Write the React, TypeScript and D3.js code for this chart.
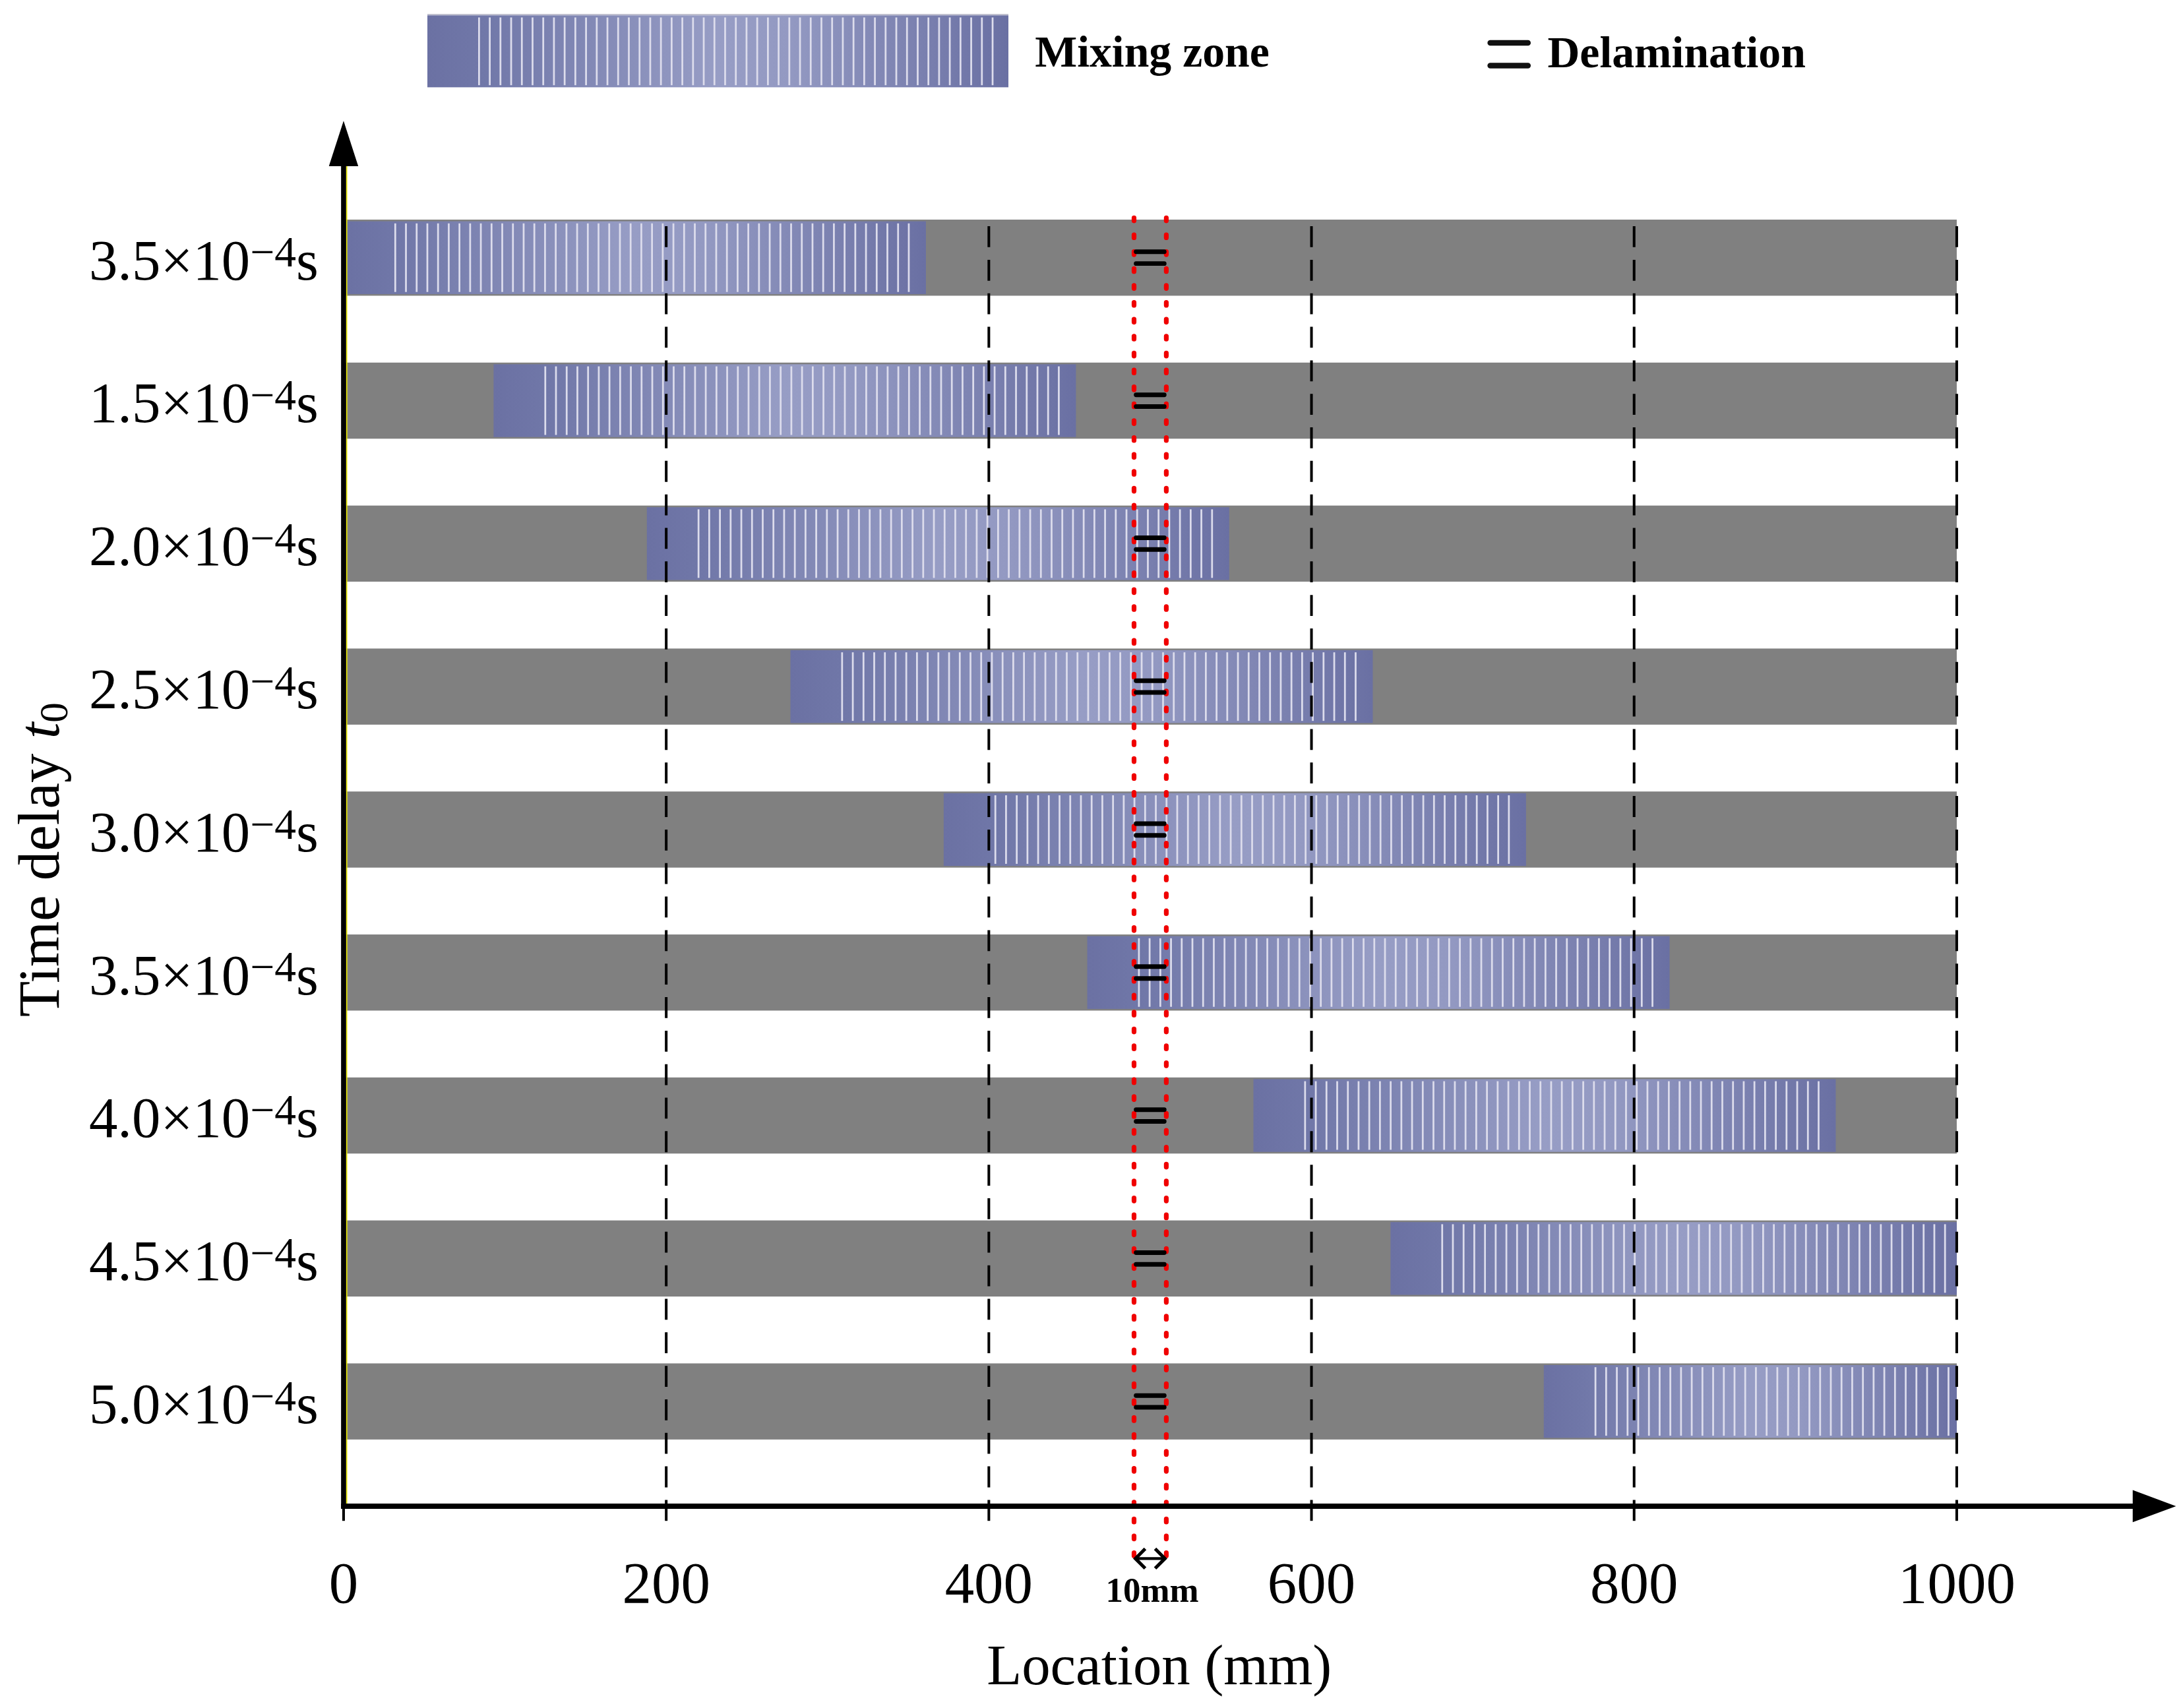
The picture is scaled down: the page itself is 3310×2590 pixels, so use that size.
import { useEffect, useRef } from "react";
import * as d3 from "d3";

// time delay label of each row (top to bottom), as printed
const delayLabels = ["3.5", "1.5", "2.0", "2.5", "3.0", "3.5", "4.0", "4.5", "5.0"];
// mixing zone extent per row, mm
const zoneStart = [0, 93, 188, 277, 372, 461, 564, 649, 744];
const zoneEnd = [361, 454, 549, 638, 733, 822, 925, 1000, 1000];
const xTicks = [0, 200, 400, 600, 800, 1000];
// delamination band, mm
const delamLeft = 490;
const delamRight = 510;

const W = 1563;
const H = 1223;
const FONT = "'Liberation Serif', 'Times New Roman', serif";

export default function App() {
    const ref = useRef<SVGSVGElement | null>(null);

    useEffect(() => {
        if (!ref.current) return;
        const svg = d3.select(ref.current);
        svg.selectAll("*").remove();

        const x = d3.scaleLinear().domain([0, 1000]).range([246, 1401]);
        const y = d3.scalePoint<number>().domain(d3.range(delayLabels.length)).range([184.5, 1003.5]);
        const barH = 54.5;
        const axisY = 1078.5;

        const defs = svg.append("defs");
        const grad = defs.append("linearGradient").attr("id", "mixGrad");
        [[0, "#6b71a3"], [0.09, "#7077a8"], [0.5, "#979dc5"], [0.62, "#9399c2"], [1, "#6a70a3"]]
            .forEach(([o, c]) => grad.append("stop").attr("offset", o as number).attr("stop-color", c as string));

        const drawZone = (g: any, x0: number, x1: number, top: number, h: number) => {
            g.append("rect")
                .attr("x", x0).attr("y", top)
                .attr("width", x1 - x0).attr("height", h)
                .attr("fill", "url(#mixGrad)");
            const step = 7.66;
            const stripes = d3.range(x0 + 37, x1 - 5, step);
            g.selectAll(null)
                .data(stripes)
                .enter()
                .append("line")
                .attr("x1", (d: number) => d).attr("x2", (d: number) => d)
                .attr("y1", top + 1.5).attr("y2", top + h - 1.5)
                .attr("stroke", "#dcdcec")
                .attr("stroke-width", 1.3);
        };

        // legend
        const legend = svg.append("g");
        legend.append("line")
            .attr("x1", 306).attr("x2", 722).attr("y1", 10.5).attr("y2", 10.5)
            .attr("stroke", "#b8b8c8").attr("stroke-width", 1);
        drawZone(legend, 306, 722, 11, 51.5);
        legend.append("text")
            .attr("x", 741).attr("y", 47.5)
            .attr("font-family", FONT).attr("font-weight", "bold").attr("font-size", 32)
            .text("Mixing zone");
        [30.7, 47].forEach((yy) => {
            legend.append("line")
                .attr("x1", 1067).attr("x2", 1094).attr("y1", yy).attr("y2", yy)
                .attr("stroke", "#111").attr("stroke-width", 4).attr("stroke-linecap", "round");
        });
        legend.append("text")
            .attr("x", 1108).attr("y", 48)
            .attr("font-family", FONT).attr("font-weight", "bold").attr("font-size", 32)
            .text("Delamination");

        // gray bars
        const rows = d3.range(delayLabels.length);
        svg.append("g")
            .selectAll("rect")
            .data(rows)
            .enter()
            .append("rect")
            .attr("x", x(0))
            .attr("y", (i) => (y(i) as number) - barH / 2)
            .attr("width", x(1000) - x(0))
            .attr("height", barH)
            .attr("fill", "#808080");

        // mixing zones
        const zones = svg.append("g");
        rows.forEach((i) => {
            const top = (y(i) as number) - barH / 2 + 1.2;
            drawZone(zones, x(zoneStart[i]), x(zoneEnd[i]), top, barH - 2.4);
        });

        // dashed grid lines
        svg.append("g")
            .selectAll("line")
            .data(xTicks)
            .enter()
            .append("line")
            .attr("x1", (d) => x(d)).attr("x2", (d) => x(d))
            .attr("y1", 162).attr("y2", 1098)
            .attr("stroke", "#000")
            .attr("stroke-width", 1.9)
            .attr("stroke-dasharray", "15 9");

        // red dotted delamination band
        svg.append("g")
            .selectAll("line")
            .data([delamLeft, delamRight])
            .enter()
            .append("line")
            .attr("x1", (d) => x(d)).attr("x2", (d) => x(d))
            .attr("y1", 156).attr("y2", 1116)
            .attr("stroke", "#f00000")
            .attr("stroke-width", 3.4)
            .attr("stroke-linecap", "round")
            .attr("stroke-dasharray", "2.1 10");

        // delamination marks
        const marks = svg.append("g");
        rows.forEach((i) => {
            [-4.2, 4.2].forEach((off) => {
                marks.append("line")
                    .attr("x1", x(delamLeft) + 1.5).attr("x2", x(delamRight) - 1.5)
                    .attr("y1", (y(i) as number) + off).attr("y2", (y(i) as number) + off)
                    .attr("stroke", "#000")
                    .attr("stroke-width", 3.3)
                    .attr("stroke-linecap", "round");
            });
        });

        // 10mm double arrow
        const ax0 = x(delamLeft) + 1;
        const ax1 = x(delamRight) - 1;
        const ay = 1116;
        svg.append("line")
            .attr("x1", ax0).attr("x2", ax1).attr("y1", ay).attr("y2", ay)
            .attr("stroke", "#000").attr("stroke-width", 2);
        svg.append("path")
            .attr("d", `M${ax0 + 7},${ay - 7}L${ax0},${ay}L${ax0 + 7},${ay + 7}M${ax1 - 7},${ay - 7}L${ax1},${ay}L${ax1 - 7},${ay + 7}`)
            .attr("fill", "none").attr("stroke", "#000").attr("stroke-width", 2.4);
        svg.append("text")
            .attr("x", 825).attr("y", 1147)
            .attr("text-anchor", "middle")
            .attr("font-family", FONT).attr("font-weight", "bold").attr("font-size", 25)
            .text("10mm");

        // axes
        svg.append("line")
            .attr("x1", 248.2).attr("x2", 248.2).attr("y1", 119).attr("y2", axisY)
            .attr("stroke", "#e8e800").attr("stroke-width", 0.9);
        svg.append("line")
            .attr("x1", 246).attr("x2", 246).attr("y1", axisY + 1.9).attr("y2", 118)
            .attr("stroke", "#000").attr("stroke-width", 3.6);
        svg.append("path")
            .attr("d", "M246,86.5L256.5,119L235.5,119Z")
            .attr("fill", "#000");
        svg.append("line")
            .attr("x1", 244.2).attr("x2", 1530).attr("y1", axisY).attr("y2", axisY)
            .attr("stroke", "#000").attr("stroke-width", 3.8);
        svg.append("path")
            .attr("d", `M1527,${axisY - 11.5}L1558,${axisY}L1527,${axisY + 11.5}Z`)
            .attr("fill", "#000");

        // x tick labels
        svg.append("g")
            .selectAll("text")
            .data(xTicks)
            .enter()
            .append("text")
            .attr("x", (d) => x(d))
            .attr("y", 1147.5)
            .attr("text-anchor", "middle")
            .attr("font-family", FONT).attr("font-size", 42)
            .text((d) => String(d));

        svg.append("text")
            .attr("x", 830).attr("y", 1206)
            .attr("text-anchor", "middle")
            .attr("font-family", FONT).attr("font-size", 41)
            .text("Location (mm)");

        // y labels
        const yl = svg.append("g");
        rows.forEach((i) => {
            const t = yl.append("text")
                .attr("x", 228)
                .attr("y", (y(i) as number) + 15.5)
                .attr("text-anchor", "end")
                .attr("font-family", FONT).attr("font-size", 41);
            t.append("tspan").text(`${delayLabels[i]}×10`);
            t.append("tspan").attr("dy", -9).attr("font-size", 31).text("−4");
            t.append("tspan").attr("dy", 9).text("s");
        });

        const yt = svg.append("text")
            .attr("transform", "translate(42,615.5) rotate(-90)")
            .attr("text-anchor", "middle")
            .attr("font-family", FONT).attr("font-size", 42);
        yt.append("tspan").text("Time delay ");
        yt.append("tspan").attr("font-style", "italic").text("t");
        yt.append("tspan").attr("font-size", 29).attr("dy", 6).text("0");
    }, []);

    return (
        <svg
            ref={ref}
            width={3310}
            height={2590}
            viewBox={`0 0 ${W} ${H}`}
            style={{ position: "absolute", left: 0, top: 0, background: "#fff" }}
        />
    );
}
